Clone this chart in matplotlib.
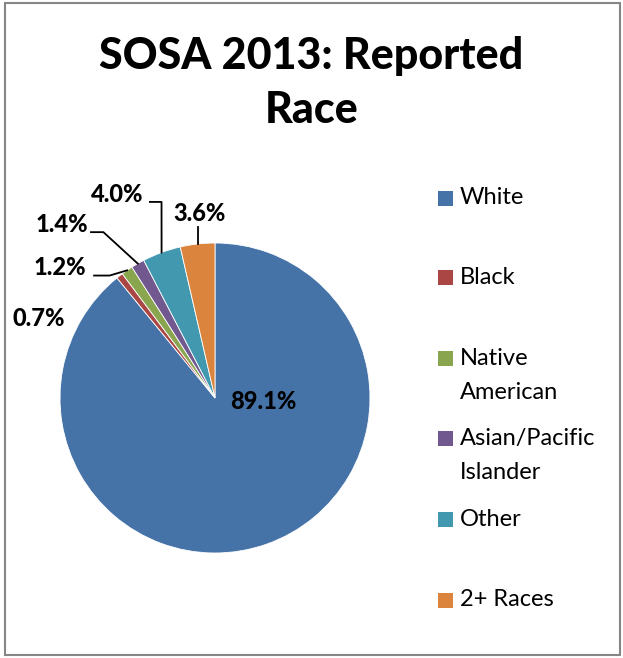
import matplotlib.pyplot as plt
from matplotlib.patches import Rectangle
import numpy as np

races = ["White", "Black", "Native American", "Asian/Pacific Islander", "Other", "2+ Races"]
legend_labels = ["White", "Black", "Native\nAmerican", "Asian/Pacific\nIslander", "Other", "2+ Races"]
shares = [89.1, 0.7, 1.2, 1.4, 4.0, 3.6]
colors = ["#4572A7", "#AA4643", "#89A54E", "#71588F", "#4198AF", "#DB843D"]

# label anchors (pie units) and leader elbows for the thin slices
label_pos = [(0.31, -0.02), (-1.14, 0.51), (-1.0, 0.84), (-0.99, 1.12), (-0.63, 1.31), (-0.10, 1.19)]
leader_pts = [
    None,
    None,
    [(-0.68, 0.79), (-0.78, 0.79)],
    [(-0.72, 1.07), (-0.80, 1.07)],
    [(-0.345, 1.265), (-0.42, 1.265)],
    [(None, 1.10)],
]

plt.rcParams['font.family'] = ['Lato', 'DejaVu Sans']

fig = plt.figure(figsize=(6.23, 6.58), dpi=100)
W, H = 623, 658
cx, cy, r = 215, 398, 155
ax = fig.add_axes([(cx - r) / W, (H - cy - r) / H, 2 * r / W, 2 * r / H])

wedges, _ = ax.pie(shares, colors=colors, startangle=90, counterclock=False,
                   radius=1.0, wedgeprops=dict(edgecolor="white", linewidth=0.6))
ax.set_xlim(-1, 1)
ax.set_ylim(-1, 1)
ax.set_aspect("equal")
ax.axis("off")

for i, (w, val) in enumerate(zip(wedges, shares)):
    lx, ly = label_pos[i]
    ax.text(lx, ly, f"{val:.1f}%", ha="center", va="center", fontsize=17,
            fontweight="black", color="black", clip_on=False)
    pts = leader_pts[i]
    if pts is None:
        continue
    mid = np.deg2rad((w.theta1 + w.theta2) / 2)
    px, py = np.cos(mid), np.sin(mid)
    xs, ys = [px], [py]
    for (ex, ey) in pts:
        xs.append(px if ex is None else ex)
        ys.append(ey)
    ax.plot(xs, ys, color="black", linewidth=1.3, clip_on=False)

# legend
legend_y = [198, 278, 358, 438, 519, 600]
for lab, col, y in zip(legend_labels, colors, legend_y):
    fig.patches.append(Rectangle((438 / W, (H - y - 7.5) / H), 15 / W, 15 / H,
                                 transform=fig.transFigure, facecolor=col, edgecolor="none"))
    if "\n" in lab:
        fig.text(460 / W, (H - y + 10) / H, lab, ha="left", va="top",
                 fontsize=17, linespacing=1.75, color="black")
    else:
        fig.text(460 / W, (H - y) / H, lab, ha="left", va="center",
                 fontsize=17, color="black")

fig.text(0.5, (H - 56) / H, "SOSA 2013: Reported", ha="center", va="center",
         fontsize=31, fontweight="black")
fig.text(0.5, (H - 110) / H, "Race", ha="center", va="center",
         fontsize=31, fontweight="black")

fig.patches.append(Rectangle((5 / W, 3 / H), 615 / W, 652 / H, transform=fig.transFigure,
                             facecolor="none", edgecolor="#868686", linewidth=1.5))

fig.savefig("out.png", dpi=100)
